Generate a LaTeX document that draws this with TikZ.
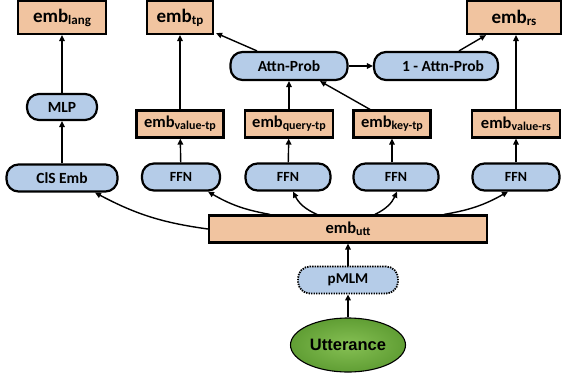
\documentclass[tikz,border=0pt]{standalone}
\usepackage{fontspec}
\setmainfont{Carlito}
\newfontfamily\arialfont{Liberation Sans}
\usetikzlibrary{arrows.meta,shapes.geometric}
\definecolor{boxorange}{RGB}{241,196,160}
\definecolor{boxblue}{RGB}{181,204,232}
\definecolor{greenin}{RGB}{134,192,84}
\definecolor{greenout}{RGB}{96,158,52}
\newcommand\embT[1]{{\fontsize{19}{19}\selectfont emb}{\fontsize{13}{13}\selectfont\raisebox{-2pt}{#1}}}
\newcommand\embS[1]{{\fontsize{16.5}{16.5}\selectfont emb}{\fontsize{12}{12}\selectfont\raisebox{-2pt}{#1}}}
\tikzset{
  obox/.style={draw=black, line width=2.2pt, fill=boxorange, inner sep=0pt, font=\bfseries},
  bbox/.style={draw=black, line width=2.2pt, fill=boxblue, rounded corners=12pt, inner sep=0pt, font=\bfseries\fontsize{14}{14}\selectfont},
  bigtxt/.style={font=\bfseries\fontsize{15.5}{15.5}\selectfont},
  arr/.style={-{Triangle[length=6pt,width=5.5pt]}, line width=1.4pt},
}
\begin{document}
\begin{tikzpicture}[x=1pt,y=1pt]
\useasboundingbox (0,0) rectangle (566,-376);
% top row
\node[obox, minimum width=88, minimum height=33] (lang) at (62,-17.5) {\embT{lang}};
\node[obox, minimum width=66, minimum height=33] (tp) at (180,-17.5) {\embT{tp}};
\node[obox, minimum width=94, minimum height=33] (rs) at (514,-17.5) {\embT{rs}};
% attention row
\node[bbox, bigtxt, minimum width=117, minimum height=28] (attn) at (289,-66) {Attn-Prob};
\node[bbox, bigtxt, minimum width=124, minimum height=28] (oneattn) at (436,-66) {\hspace*{14pt}1 - Attn-Prob};
% middle row
\node[bbox, bigtxt, minimum width=70, minimum height=26] (mlp) at (62,-107) {MLP};
\node[obox, minimum width=87, minimum height=27] (vtp) at (180,-124) {\embS{value-tp}};
\node[obox, minimum width=88, minimum height=27] (qtp) at (289,-124) {\embS{query-tp}};
\node[obox, minimum width=77, minimum height=27] (ktp) at (392,-124) {\embS{key-tp}};
\node[obox, minimum width=88, minimum height=27] (vrs) at (516,-124) {\embS{value-rs}};
% FFN row
\node[bbox, bigtxt, minimum width=111, minimum height=27] (cis) at (62,-178) {ClS Emb};
\node[bbox, minimum width=78, minimum height=27] (ffna) at (181,-177) {FFN};
\node[bbox, minimum width=85, minimum height=27] (ffnb) at (288,-177) {FFN};
\node[bbox, minimum width=85, minimum height=27] (ffnc) at (396,-177) {FFN};
\node[bbox, minimum width=87, minimum height=27] (ffnd) at (516,-177) {FFN};
% bottom
\node[obox, minimum width=278, minimum height=27] (utt) at (348,-229) {\embS{utt}};
\node[bbox, dash pattern=on 1.4pt off 1.1pt, line width=1.8pt, minimum width=100, minimum height=27, font=\bfseries\fontsize{15}{15}\selectfont] (pmlm) at (348,-280) {pMLM};
\node[ellipse, draw=black, line width=1.1pt, inner color=greenin, outer color=greenout, minimum width=115, minimum height=54, inner sep=0pt, font=\arialfont\bfseries\fontsize{16.5}{16.5}\selectfont] (utterance) at (348,-345) {Utterance};
% connectors
\draw[arr] (utterance) -- (pmlm);
\draw[arr] (pmlm) -- (utt);
\draw[arr] (utt.west) to[bend left=10] ([xshift=33pt]cis.south);
\draw[arr] ([xshift=-78pt]utt.north) to[bend left=10] ([xshift=27pt]ffna.south);
\draw[arr] ([xshift=-31pt]utt.north) to[bend left=20] ([xshift=5pt]ffnb.south);
\draw[arr] ([xshift=27pt]utt.north) to[bend right=20] ([xshift=1pt]ffnc.south);
\draw[arr] ([xshift=96pt]utt.north) to[bend right=10] ([xshift=-8pt]ffnd.south);
\draw[arr] (cis) -- (mlp);
\draw[arr] (mlp) -- (lang);
\draw[arr] (ffna) -- (vtp);
\draw[arr] (vtp) -- (tp);
\draw[arr] (ffnb) -- (qtp);
\draw[arr] (qtp.north) -- (qtp.north |- attn.south);
\draw[arr] (ffnc.north -| ktp) -- (ktp);
\draw[arr] ([xshift=-22pt]ktp.north) -- ([xshift=31pt]attn.south);
\draw[arr] ([xshift=-32pt]attn.north) -- ([xshift=2pt,yshift=2pt]tp.south east);
\draw[arr] (attn) -- (oneattn);
\draw[arr] ([xshift=23pt]oneattn.north) -- ([xshift=-28pt]rs.south);
\draw[arr] (ffnd) -- (vrs);
\draw[arr] (vrs.north) -- (vrs.north |- rs.south);
\end{tikzpicture}
\end{document}
